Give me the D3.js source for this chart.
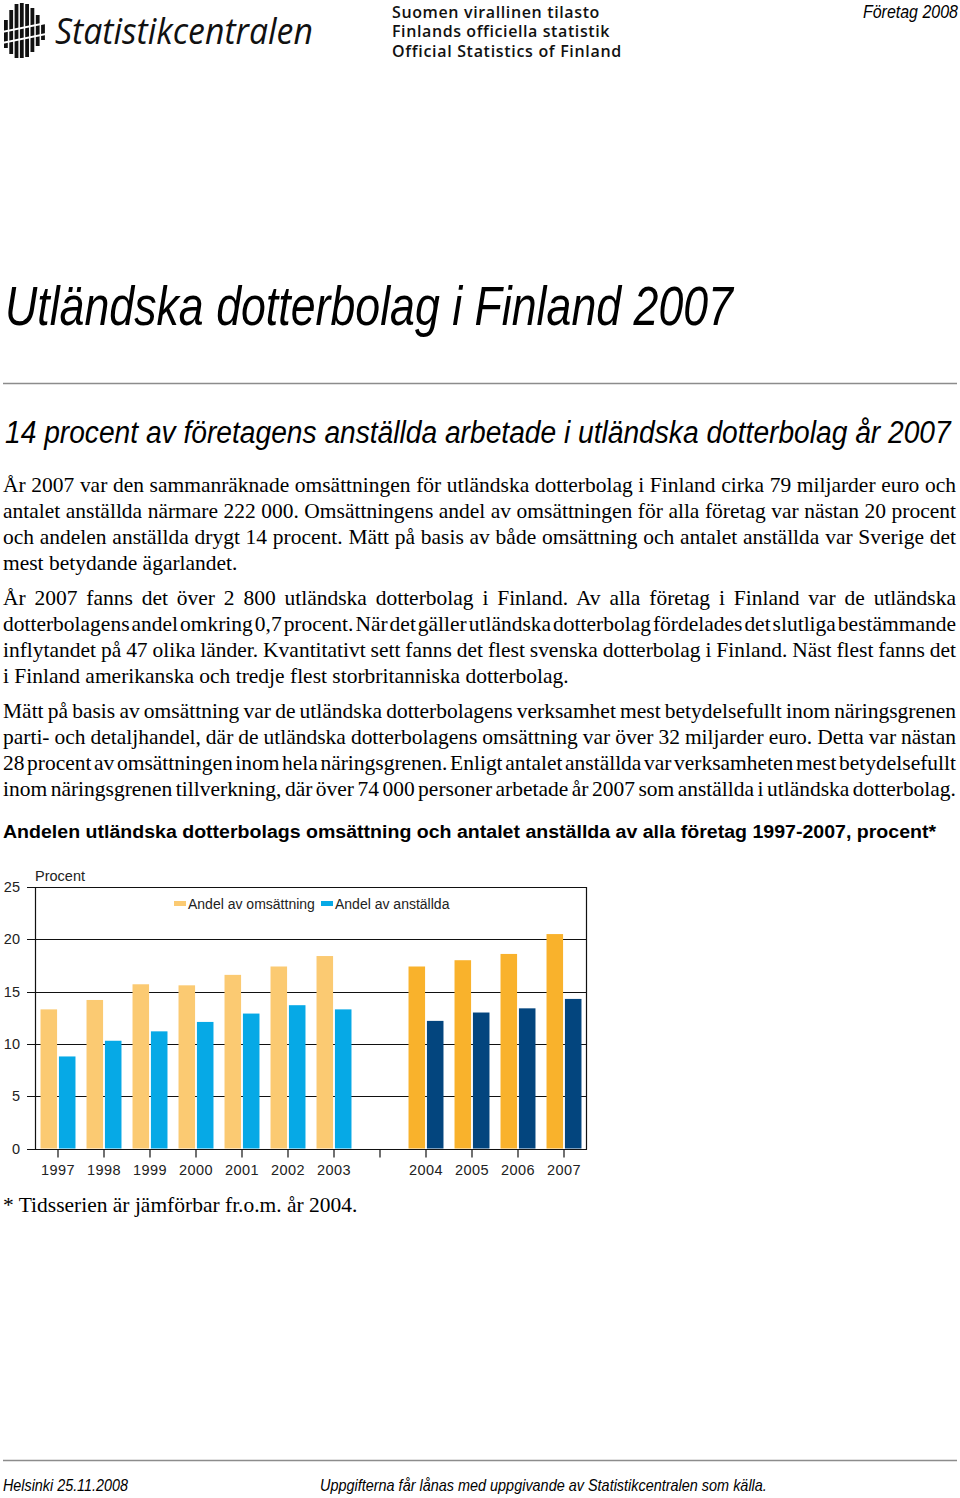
<!DOCTYPE html>
<html><head><meta charset="utf-8">
<script src="https://cdn.jsdelivr.net/npm/d3@7"></script>
<style>
html,body{margin:0;padding:0;background:#fff;}
svg{display:block;}
</style></head>
<body>
<svg id="page" width="960" height="1498"></svg>
<script>
// ---------------- DATA ----------------
const years = ["1997","1998","1999","2000","2001","2002","2003","2004","2005","2006","2007"];
const xSlots = ["1997","1998","1999","2000","2001","2002","2003","gap","2004","2005","2006","2007"];
const andelOmsattning = [13.3,14.2,15.7,15.6,16.6,17.4,18.4,17.4,18.0,18.6,20.5];
const andelAnstallda  = [8.8,10.3,11.2,12.1,12.9,13.7,13.3,12.2,13.0,13.4,14.3];
const comparableFrom = "2004";
const seriesNames = ["Andel av omsättning","Andel av anställda"];
const yTicks = [0,5,10,15,20,25];
const yLabel = "Procent";

const colOmsOld = "#fbca72", colOmsNew = "#f9b22c";
const colAnsOld = "#06a9e6", colAnsNew = "#03457e";

const para1 = [
 "År 2007 var den sammanräknade omsättningen för utländska dotterbolag i Finland cirka 79 miljarder euro och",
 "antalet anställda närmare 222 000. Omsättningens andel av omsättningen för alla företag var nästan 20 procent",
 "och andelen anställda drygt 14 procent. Mätt på basis av både omsättning och antalet anställda var Sverige det",
 "mest betydande ägarlandet."];
const para2 = [
 "År 2007 fanns det över 2 800 utländska dotterbolag i Finland. Av alla företag i Finland var de utländska",
 "dotterbolagens andel omkring 0,7 procent. När det gäller utländska dotterbolag fördelades det slutliga bestämmande",
 "inflytandet på 47 olika länder. Kvantitativt sett fanns det flest svenska dotterbolag i Finland. Näst flest fanns det",
 "i Finland amerikanska och tredje flest storbritanniska dotterbolag."];
const para3 = [
 "Mätt på basis av omsättning var de utländska dotterbolagens verksamhet mest betydelsefullt inom näringsgrenen",
 "parti- och detaljhandel, där de utländska dotterbolagens omsättning var över 32 miljarder euro. Detta var nästan",
 "28 procent av omsättningen inom hela näringsgrenen. Enligt antalet anställda var verksamheten mest betydelsefullt",
 "inom näringsgrenen tillverkning, där över 74 000 personer arbetade år 2007 som anställda i utländska dotterbolag."];

// ---------------- PAGE ----------------
const svg = d3.select("#page");
const narrow = "'Liberation Sans Narrow','Arial Narrow','Liberation Sans',Arial,sans-serif";
const serif = "'Liberation Serif','Times New Roman',serif";
const sans = "'Liberation Sans',Arial,sans-serif";
const humanist = "'Open Sans','Noto Sans',sans-serif";

// horizontally condense/stretch a text (anchored at its x) to a target width
function condense(parent, x, y, target, anchor){
  const g = parent.append("g");
  const t = g.append("text").attr("x",0).attr("y",y);
  return {t, done(){
    const w = t.node().getComputedTextLength();
    const k = target / w;
    const x0 = anchor==="end" ? x - target : x;
    g.attr("transform",`translate(${x0},0) scale(${k.toFixed(4)},1)`);
    return t;
  }};
}
function narrowText(x,y,size,target,str,anchor){
  const c = condense(svg,x,y,target,anchor);
  c.t.attr("font-family",narrow).attr("font-style","italic").attr("font-size",size).attr("fill","#000").text(str);
  return c.done();
}
function fitSpacing(sel, target){
  const w = sel.node().getComputedTextLength();
  const n = sel.text().length;
  sel.attr("letter-spacing", ((target-w)/n).toFixed(3));
  return sel;
}

// Logo icon
const logo = svg.append("g");
const bx = [4,9.3,14.6,19.9,25.2,30.5,35.8,41.1];
const bTop = [20,10,4,3,4,8,15,24];
const bBot = [48,54,58,58,57,52,46,40];
bx.forEach((x,i)=>{
  logo.append("rect").attr("x",x).attr("y",bTop[i]).attr("width",3.8).attr("height",bBot[i]-bTop[i]).attr("fill","#111");
});
[0,1].forEach(k=>{
  logo.append("path").attr("d",`M2,${31+k*11} L46,${22+k*11} L46,${24+k*11} L2,${33+k*11} Z`).attr("fill","#fff");
});
{
  const c = condense(svg,55,44,258);
  c.t.attr("font-family",humanist).attr("font-style","italic").attr("font-weight",400)
    .attr("font-size",37).attr("fill","#111").text("Statistikcentralen");
  c.done();
}
[["Suomen virallinen tilasto",17.5,208],["Finlands officiella statistik",37,218],["Official Statistics of Finland",56.5,230]].forEach(([t,y,w])=>{
  fitSpacing(svg.append("text").attr("x",392).attr("y",y).attr("font-family",humanist).attr("font-weight",600)
    .attr("font-size",16).attr("fill","#111").text(t), w);
});
narrowText(958,18,18,95,"Företag 2008","end");

// Title
narrowText(5,325,55,728,"Utländska dotterbolag i Finland 2007");
svg.append("line").attr("x1",3).attr("x2",957).attr("y1",383.5).attr("y2",383.5).attr("stroke","#8c8c8c").attr("stroke-width",1.5);

// Subtitle
narrowText(5,443,31,946,"14 procent av företagens anställda arbetade i utländska dotterbolag år 2007");

// Body paragraphs (serif, slightly wide)
const SX = 1.075;
function drawPara(lines, y0, justifyLast){
  const pg = svg.append("g").attr("transform",`translate(3,0) scale(${SX},1)`);
  lines.forEach((t,i)=>{
    const el = pg.append("text").attr("x",0).attr("y",y0+i*26).attr("font-family",serif)
      .attr("font-size",20).attr("fill","#000").attr("xml:space","preserve").text(t);
    const last = i===lines.length-1;
    if(!last || justifyLast){
      const w = el.node().getComputedTextLength();
      const n = (t.match(/ /g)||[]).length;
      el.style("word-spacing", ((953/SX-w)/n)+"px");
    }
  });
}
drawPara(para1,492,false);
drawPara(para2,605,false);
drawPara(para3,718,true);

// Chart title
{
  const c = condense(svg,3,838,934);
  c.t.attr("font-family",sans).attr("font-weight","bold").attr("font-size",18).attr("fill","#000")
    .text("Andelen utländska dotterbolags omsättning och antalet anställda av alla företag 1997-2007, procent*");
  c.done();
}

// ---------------- CHART ----------------
const L=35, R=587, T=887, B=1148.5;
const x = d3.scaleBand().domain(xSlots).range([L,R]).padding(0);
const bw = x.bandwidth();
const xi = d3.scaleBand().domain(seriesNames).range([bw*0.12, bw*0.88]).paddingInner(0.1);
const y = d3.scaleLinear().domain([0,25]).range([B,T]);
const chart = svg.append("g");

// grid
chart.selectAll("line.grid").data(yTicks).join("line").attr("class","grid")
  .attr("x1",L-8).attr("x2",R).attr("y1",d=>Math.round(y(d))+0.5).attr("y2",d=>Math.round(y(d))+0.5)
  .attr("stroke","#111").attr("stroke-width",1.2);
// y labels
chart.selectAll("text.yl").data(yTicks).join("text").attr("class","yl")
  .attr("x",20).attr("y",d=>y(d)+5).attr("text-anchor","end").attr("font-family",sans)
  .attr("font-size",14.5).attr("fill","#222").text(d=>d);
chart.append("text").attr("x",35).attr("y",881).attr("font-family",sans).attr("font-size",14.5)
  .attr("fill","#222").text(yLabel);

// bars
const rows = years.map((yr,i)=>({yr, oms:andelOmsattning[i], ans:andelAnstallda[i], newer: +yr >= +comparableFrom}));
const g = chart.selectAll("g.yr").data(rows).join("g").attr("class","yr").attr("transform",d=>`translate(${x(d.yr)},0)`);
g.append("rect").attr("x",xi(seriesNames[0])).attr("width",xi.bandwidth())
  .attr("y",d=>y(d.oms)).attr("height",d=>y(0)-y(d.oms)).attr("fill",d=>d.newer?colOmsNew:colOmsOld);
g.append("rect").attr("x",xi(seriesNames[1])).attr("width",xi.bandwidth())
  .attr("y",d=>y(d.ans)).attr("height",d=>y(0)-y(d.ans)).attr("fill",d=>d.newer?colAnsNew:colAnsOld);

// frame
chart.append("line").attr("x1",L+0.5).attr("x2",L+0.5).attr("y1",T).attr("y2",B+1).attr("stroke","#111").attr("stroke-width",1.2);
chart.append("line").attr("x1",R-0.5).attr("x2",R-0.5).attr("y1",T).attr("y2",B+1).attr("stroke","#111").attr("stroke-width",1.2);
chart.append("line").attr("x1",L-8).attr("x2",R).attr("y1",Math.round(B)+0.5).attr("y2",Math.round(B)+0.5).attr("stroke","#111").attr("stroke-width",1.2);

// x axis ticks & labels
const xAxis = d3.axisBottom(x).tickSize(8).tickFormat(d=>d==="gap"?"":d);
const xg = chart.append("g").attr("transform",`translate(0,${Math.round(B)+0.5})`).call(xAxis);
xg.select(".domain").remove();
xg.selectAll(".tick line").attr("stroke","#111").attr("stroke-width",1.2);
xg.selectAll(".tick text").attr("dy",0).attr("y",25).attr("font-family",sans).attr("font-size",14.5)
  .attr("letter-spacing",0.4).attr("fill","#222");

// legend
const lg = chart.append("g");
[[174,colOmsOld,188,seriesNames[0]],[321,colAnsOld,335,seriesNames[1]]].forEach(([sx,c,tx,t])=>{
  lg.append("rect").attr("x",sx).attr("y",901).attr("width",12).attr("height",5).attr("fill",c);
  lg.append("text").attr("x",tx).attr("y",909).attr("font-family",sans).attr("font-size",14).attr("fill","#222").text(t);
});

// footnote
svg.append("text").attr("x",3).attr("y",1212).attr("font-family",serif).attr("font-size",20).attr("fill","#000")
  .attr("transform",`translate(${3-3*SX},0) scale(${SX},1)`)
  .text("* Tidsserien är jämförbar fr.o.m. år 2004.");

// footer
svg.append("line").attr("x1",3).attr("x2",957).attr("y1",1460.5).attr("y2",1460.5).attr("stroke","#8c8c8c").attr("stroke-width",1.5);
narrowText(3,1491,17,125,"Helsinki 25.11.2008");
narrowText(320,1491,17,447,"Uppgifterna får lånas med uppgivande av Statistikcentralen som källa.");
</script>
</body></html>
